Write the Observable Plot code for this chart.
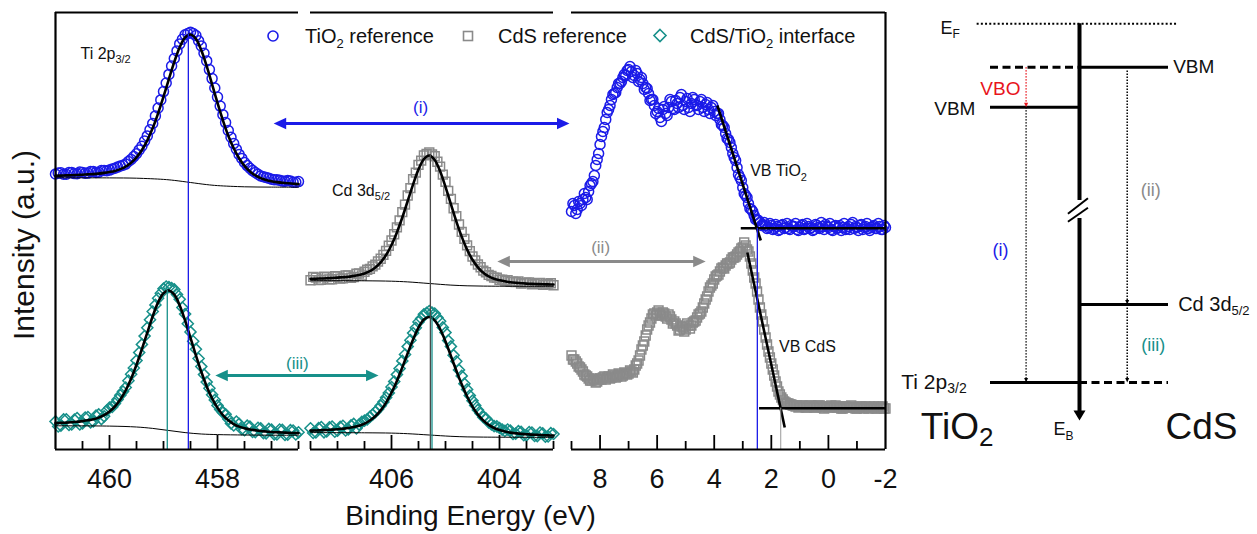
<!DOCTYPE html>
<html><head><meta charset="utf-8">
<script src="https://cdn.jsdelivr.net/npm/d3@7"></script>
<script src="https://cdn.jsdelivr.net/npm/@observablehq/plot@0.6"></script>
<style>
html,body{margin:0;padding:0;background:#fff;}
#wrap{position:relative;width:1257px;height:534px;overflow:hidden;background:#fff;}
#wrap > svg{position:absolute;top:0;left:0;}
</style></head><body><div id="wrap"></div>
<script>
// ================= DATA =================
// Ti 2p3/2 region (binding energy, eV); samples on the 0.1 eV grid and on the half-step grid
const be1 = [461.0,460.9,460.8,460.7,460.6,460.5,460.4,460.3,460.2,460.1,460.0,459.9,459.8,459.7,459.6,459.5,459.4,459.3,459.2,459.1,459.0,458.9,458.8,458.7,458.6,458.5,458.4,458.3,458.2,458.1,458.0,457.9,457.8,457.7,457.6,457.5,457.4,457.3,457.2,457.1,457.0,456.9,456.8,456.7,456.6,456.5];
const be1b = [460.95,460.85,460.75,460.65,460.55,460.45,460.35,460.25,460.15,460.05,459.95,459.85,459.75,459.65,459.55,459.45,459.35,459.25,459.15,459.05,458.95,458.85,458.75,458.65,458.55,458.45,458.35,458.25,458.15,458.05,457.95,457.85,457.75,457.65,457.55,457.45,457.35,457.25,457.15,457.05,456.95,456.85,456.75,456.65,456.55];
const tiRefData = [275.5,276.8,275.2,276.9,275.8,277.1,276.4,277.9,277.2,279.1,279.4,281.2,283.5,285.4,290.1,295.8,303.2,313.6,326.0,341.5,357.9,375.1,391.0,405.6,414.8,417.2,413.9,403.5,388.6,370.9,352.4,334.8,319.0,305.9,295.1,287.0,281.2,277.0,273.6,272.1,270.2,269.8,268.4,268.9,267.3,267.9];
const tiRefDataB = [276.4,275.3,277.0,275.9,277.4,276.3,278.0,277.1,278.9,278.8,280.6,282.4,284.3,288.0,292.9,299.6,308.4,319.7,333.6,349.6,366.5,383.4,398.6,410.2,416.0,415.9,408.8,396.2,379.9,361.5,343.4,326.9,312.3,300.3,291.1,283.9,278.9,275.3,272.7,271.2,269.8,269.3,268.2,268.5,267.2];
const tiRefFit = [273.8,273.9,274.1,274.2,274.5,274.8,275.1,275.4,275.9,276.6,277.5,278.6,280.4,282.9,286.8,292.2,299.5,309.2,321.4,336.2,352.8,370.4,387.6,402.3,412.0,415.0,410.6,399.3,383.4,365.2,346.6,329.2,313.8,301.2,291.2,283.6,278.0,274.1,271.4,269.6,268.3,267.4,266.7,266.2,265.8,265.4];
const tiIntData = [28.1,23.9,30.2,25.0,31.4,26.2,32.5,28.0,35.1,33.2,41.8,45.9,54.2,62.0,75.3,88.9,105.1,121.8,138.0,151.2,160.8,162.3,160.1,150.2,135.4,117.6,100.3,82.9,67.4,54.8,44.1,36.9,30.4,24.1,25.6,19.3,22.8,17.4,21.1,16.2,19.8,15.1,19.6,14.8,18.9,17.2];
const tiIntDataB = [23.0,30.1,24.6,29.8,25.1,31.9,27.2,33.8,30.4,38.9,42.6,50.1,57.9,68.8,81.5,96.9,113.4,129.8,144.6,156.2,163.0,161.5,154.9,141.9,125.8,108.2,91.0,74.9,61.2,49.6,40.1,35.2,26.1,27.9,20.3,23.8,17.6,21.7,16.4,20.6,15.2,19.9,14.6,19.3,15.1];
const tiIntFit = [26.4,26.6,26.9,27.2,27.7,28.4,29.2,30.2,31.9,34.3,38.0,43.0,49.9,59.1,70.7,84.7,100.4,116.9,133.2,147.1,156.2,159.0,154.8,144.1,129.0,111.7,94.2,77.7,63.1,51.1,41.6,34.4,29.2,25.5,22.9,21.2,20.0,19.2,18.5,18.0,17.5,17.2,17.0,16.7,16.5,16.4];
const bgTiRefX = [461,460,459.5,459,458.8,458.5,458.2,458,457.5,457,456.5];
const bgTiRef  = [271.7,271.6,271.3,270.1,269.1,267.0,264.9,263.9,262.7,262.4,262.3];
const bgTiIntX = [461,460,459.5,459.2,458.9,458.6,458.3,458,457.5,457,456.5];
const bgTiInt  = [23.7,23.4,22.5,21.1,19.0,16.9,15.5,14.9,14.5,14.3,14.3];

// Cd 3d5/2 region
const be2 = [407.5,407.4,407.3,407.2,407.1,407.0,406.9,406.8,406.7,406.6,406.5,406.4,406.3,406.2,406.1,406.0,405.9,405.8,405.7,405.6,405.5,405.4,405.3,405.2,405.1,405.0,404.9,404.8,404.7,404.6,404.5,404.4,404.3,404.2,404.1,404.0,403.9,403.8,403.7,403.6,403.5,403.4,403.3,403.2,403.1,403.0];
const be2b = [407.45,407.35,407.25,407.15,407.05,406.95,406.85,406.75,406.65,406.55,406.45,406.35,406.25,406.15,406.05,405.95,405.85,405.75,405.65,405.55,405.45,405.35,405.25,405.15,405.05,404.95,404.85,404.75,404.65,404.55,404.45,404.35,404.25,404.15,404.05,403.95,403.85,403.75,403.65,403.55,403.45,403.35,403.25,403.15,403.05];
const cdRefData = [169.2,171.9,169.8,172.4,170.3,173.0,171.1,174.0,172.4,176.0,177.8,180.6,184.9,190.8,198.6,209.0,222.1,237.4,254.0,270.2,284.6,294.1,297.0,293.3,282.9,267.8,250.6,233.4,217.6,204.1,193.0,185.0,178.9,174.6,171.9,169.8,168.9,167.6,167.4,166.0,166.8,165.1,166.3,164.6,165.9,164.3];
const cdRefDataB = [172.6,169.4,172.9,170.1,173.3,170.9,174.0,171.8,175.9,174.0,179.8,183.1,188.0,194.6,203.7,215.2,229.1,244.9,261.4,276.9,288.9,295.6,295.0,287.8,274.9,258.6,241.3,225.0,210.6,198.4,189.1,182.2,177.3,173.5,171.8,169.9,169.2,167.8,168.0,166.4,167.1,165.6,166.6,164.9,166.2];
const cdRefFit = [170.7,170.8,171.0,171.2,171.5,171.9,172.3,172.7,173.6,174.6,176.1,178.3,181.9,187.2,194.5,204.5,217.1,232.0,248.5,265.1,280.1,290.3,294.0,289.5,278.3,262.7,245.3,228.2,212.9,199.9,189.7,182.2,176.7,173.1,170.7,169.2,168.2,167.3,166.7,166.3,165.9,165.6,165.4,165.2,165.1,165.0];
const cdIntData = [21.2,17.1,22.4,18.0,22.9,18.8,23.7,20.1,25.6,24.9,28.8,32.6,37.4,43.8,52.0,62.5,74.9,88.6,102.9,116.4,127.6,135.2,138.4,136.0,128.3,116.9,103.1,88.2,73.6,60.1,48.8,39.6,32.3,27.2,23.4,21.5,18.6,19.0,15.8,17.6,14.2,16.9,13.4,16.1,13.0,15.5];
const cdIntDataB = [16.5,21.3,17.2,22.1,17.8,22.6,19.0,24.1,21.0,27.6,30.1,34.9,40.2,47.6,56.6,67.9,80.9,95.0,109.3,121.7,131.0,136.6,136.9,132.0,122.1,108.9,94.3,79.6,65.8,53.9,44.1,36.0,30.9,25.2,23.1,19.9,20.0,15.6,18.3,14.3,17.4,13.5,16.9,12.8,16.3];
const cdIntFit = [18.9,19.0,19.3,19.5,19.9,20.2,20.8,21.5,22.5,23.8,25.9,29.0,33.2,39.1,46.9,56.8,68.6,82.1,96.2,110.0,121.9,130.0,132.5,129.2,120.5,108.0,93.6,79.0,65.2,53.0,42.9,34.9,29.0,24.6,21.5,19.4,17.9,16.9,16.2,15.6,15.3,14.9,14.7,14.3,14.1,14.0];
const bgCdX   = [407.5,406.5,406,405.7,405.3,404.9,404.6,404.3,404,403.5,403];
const bgCdRef = [168.8,168.7,168.3,167.6,166.0,164.4,163.7,163.4,163.3,163.2,163.2];
const bgCdInt = [16.9,16.7,16.4,15.8,14.5,13.2,12.6,12.4,12.3,12.2,12.1];

// Valence band region
const be3 = [9.0,8.9,8.8,8.7,8.6,8.5,8.4,8.3,8.2,8.1,8.0,7.9,7.8,7.7,7.6,7.5,7.4,7.3,7.2,7.1,7.0,6.9,6.8,6.7,6.6,6.5,6.4,6.3,6.2,6.1,6.0,5.9,5.8,5.7,5.6,5.5,5.4,5.3,5.2,5.1,5.0,4.9,4.8,4.7,4.6,4.5,4.4,4.3,4.2,4.1,4.0,3.9,3.8,3.7,3.6,3.5,3.4,3.3,3.2,3.1,3.0,2.9,2.8,2.7,2.6,2.5,2.4,2.3,2.2,2.1,2.0,1.9,1.8,1.7,1.6,1.5,1.4,1.3,1.2,1.1,1.0,0.9,0.8,0.7,0.6,0.5,0.4,0.3,0.2,0.1,0.0,-0.1,-0.2,-0.3,-0.4,-0.5,-0.6,-0.7,-0.8,-0.9,-1.0,-1.1,-1.2,-1.3,-1.4,-1.5,-1.6,-1.7,-1.8,-1.9,-2.0];
const be3b = [8.95,8.85,8.75,8.65,8.55,8.45,8.35,8.25,8.15,8.05,7.95,7.85,7.75,7.65,7.55,7.45,7.35,7.25,7.15,7.05,6.95,6.85,6.75,6.65,6.55,6.45,6.35,6.25,6.15,6.05,5.95,5.85,5.75,5.65,5.55,5.45,5.35,5.25,5.15,5.05,4.95,4.85,4.75,4.65,4.55,4.45,4.35,4.25,4.15,4.05,3.95,3.85,3.75,3.65,3.55,3.45,3.35,3.25,3.15,3.05,2.95,2.85,2.75,2.65,2.55,2.45,2.35,2.25,2.15,2.05,1.95,1.85,1.75,1.65,1.55,1.45,1.35,1.25,1.15,1.05,0.95,0.85,0.75,0.65,0.55,0.45,0.35,0.25,0.15,0.05,-0.05,-0.15,-0.25,-0.35,-0.45,-0.55,-0.65,-0.75,-0.85,-0.95,-1.05,-1.15,-1.25,-1.35,-1.45,-1.55,-1.65,-1.75,-1.85,-1.95];
const vbTiO2 = [238,244,240,246,250,252,258,266,274,290, 305,318,330,340,350,356,362,366,372,374, 380,378,374,376,370,366,362,356,350,344, 338,332,340,336,342,348,340,346,352,344, 348,342,346,350,344,348,342,345,340,342, 338,336,330,324,316,310,302,292,282,272, 262,254,246,240,234,230,227,225,224,222, 224,221,223,220,225,222,221,224,223,220, 222,225,221,223,222,220,224,221,223,225, 222,220,223,221,224,222,220,223,225,221, 222,224,220,223,221,222,224,221,223,220, 222];
const vbTiO2B = [246,236,248,244,256,250,264,268,284,296, 313,322,337,344,355,357,366,368,375,379, 383,372,379,368,372,360,361,349,350,336, 341,328,343,334,350,341,349,342,355,340, 351,338,352,345,340,350,338,347,336,344, 334,336,325,322,311,307,296,289,275,269, 256,252,241,238,230,229,224,227,221,226, 220,225,219,224,221,226,220,223,226,219, 224,220,226,221,219,225,222,227,220,223, 226,219,224,222,219,226,221,220,227,223, 219,225,222,226,219,223,221,226,220,224];
const vbCdS = [94,90,86,82,78,74,71,69,70,68, 71,72,70,73,72,74,73,75,74,76, 76,78,80,86,94,104,114,124,131,136, 137,135,137,133,135,130,128,124,120,122, 120,124,124,128,132,136,142,150,158,164, 170,174,178,182,184,186,190,192,195,198, 202,204,198,186,172,158,142,128,112,98, 86,74,63,55,50,47,46,45,44,44, 43,44,42,43,44,42,43,44,42,43, 42,44,43,42,43,41,43,42,44,42, 41,43,42,43,41,42,43,41,42,43, 41];
const vbCdSB = [90,88,83,80,75,73,69,71,67,70, 70,73,72,71,75,72,76,73,77,75, 79,77,84,89,100,108,120,127,135,134, 139,134,136,131,133,126,126,119,123,118, 126,121,127,129,135,138,146,153,162,166, 173,175,181,181,186,187,192,193,197,201, 207,200,193,179,166,150,135,120,105,92, 80,68,58,52,48,46,45,44,43,42, 44,43,42,44,43,42,44,43,41,43, 43,42,44,42,41,43,42,43,42,41, 42,43,41,42,43,42,41,43,42,41];
// linear extrapolations of the VB edges and backgrounds
const vbEdgeX1 = [3.89, 3.07, 2.84, 2.43];
const vbEdgeY1 = [344, 221.3, 197, 41.3];
const vbEdgeX2 = [2.37, -2, 1.53, -2];
const vbEdgeY2 = [209, 221.3, 22, 41.3];

// peak / onset positions (eV) and the height they are marked from
const markBE  = [458.54, 458.93, 405.28, 405.25, 2.49, 1.67];
const markTop = [415, 159, 294, 132, 221.3, 41.3];

// axis
const panels = [[461, 456.5], [407.5, 403], [9, -2]];
const tickLabels = [460, 458, 406, 404, 8, 6, 4, 2, 0, -2];
const majorTicks = [460, 458, 406, 404, 8, 6, 4, 2, 0];
const minorTicks = [460.5, 459.5, 459, 458.5, 457.5, 457, 456.5, 407.5, 407, 406.5, 405.5, 405, 404.5, 403.5, 403, 9, 7, 5, 3, 1, -1];

// shift arrows (i), (ii), (iii)
const arrowNames = ["(i)", "(ii)", "(iii)"];
const arrowFrom = [456.96, 404.04, 458.04];
const arrowTo   = [53, 4.30, 406.24];
const arrowY    = [326, 188, 74];
const arrowLabX = [405.46, 7.98, 456.52];
const arrowLabY = [342, 202, 86];

// band diagram (schematic energy levels, binding energy downward)
const levelNames = ["E_F", "VBM CdS", "VBM TiO2", "Cd 3d5/2", "Ti 2p3/2"];
const levelE = [0, 1.085, 2.085, 7.02, 8.97];

// ================= DRAWING =================
const FONT = "'Liberation Sans', Arial, Helvetica, sans-serif";
const BLUE = "#1b1be8", TEAL = "#17908a", GREY = "#8a8a8a";
const markColors = [BLUE, TEAL, "#4a4a4a", TEAL, BLUE, "#9a9a9a"];
const arrowColors = [BLUE, GREY, TEAL];

const pts = (xs, ys) => xs.map((x, i) => ({x, y: ys[i]}));
const both = (xa, ya, xb, yb) => pts(xa, ya).concat(pts(xb, yb));
function tri(dir, l, w) {
  return {draw(c) {
    const h = w / 2;
    if (dir === "right") { c.moveTo(0, 0); c.lineTo(-l, -h); c.lineTo(-l, h); }
    else if (dir === "left") { c.moveTo(0, 0); c.lineTo(l, -h); c.lineTo(l, h); }
    else { c.moveTo(0, 0); c.lineTo(-h, -l); c.lineTo(h, -l); }
    c.closePath();
  }};
}
function subLabel(x, y, main, sub, size, subSize, fill, subDy) {
  return [
    Plot.text([main], {x: [x], y: [y], text: d => d, textAnchor: "end", lineAnchor: "bottom", fontSize: size, fill}),
    Plot.text([sub], {x: [x], y: [y], text: d => d, textAnchor: "start", lineAnchor: "bottom", fontSize: subSize, fill, dy: subDy})
  ];
}
const dotOpts = (stroke, symbol) => ({x: "x", y: "y", r: 5, symbol, stroke, fill: "none", strokeWidth: 1.5});
const fitOpts = {x: "x", y: "y", stroke: "black", strokeWidth: 2.6, curve: "catmull-rom"};
const bgOpts = {x: "x", y: "y", stroke: "black", strokeWidth: 1, curve: "catmull-rom"};

const main = Plot.plot({
  width: 1257, height: 534,
  marginLeft: 55, marginRight: 372, marginTop: 12, marginBottom: 85,
  style: {fontFamily: FONT, background: "white", overflow: "visible"},
  x: {type: "linear", domain: [461, 456.5, 407.5, 403, 9, -2], range: [55, 298, 310, 553, 571, 885], axis: null},
  y: {domain: [0, 437], range: [449, 12], axis: null},
  marks: [
    // markers
    Plot.dot(both(be1, tiRefData, be1b, tiRefDataB), dotOpts(BLUE, "circle")),
    Plot.dot(both(be1, tiIntData, be1b, tiIntDataB), dotOpts(TEAL, "diamond2")),
    Plot.dot(both(be2, cdRefData, be2b, cdRefDataB), dotOpts(GREY, "square")),
    Plot.dot(both(be2, cdIntData, be2b, cdIntDataB), dotOpts(TEAL, "diamond2")),
    Plot.dot(both(be3, vbTiO2, be3b, vbTiO2B), dotOpts(BLUE, "circle")),
    Plot.dot(both(be3, vbCdS, be3b, vbCdSB), dotOpts(GREY, "square")),
    // backgrounds
    Plot.line(pts(bgTiRefX, bgTiRef), bgOpts),
    Plot.line(pts(bgTiIntX, bgTiInt), bgOpts),
    Plot.line(pts(bgCdX, bgCdRef), bgOpts),
    Plot.line(pts(bgCdX, bgCdInt), bgOpts),
    // fits
    Plot.line(pts(be1, tiRefFit), fitOpts),
    Plot.line(pts(be1, tiIntFit), fitOpts),
    Plot.line(pts(be2, cdRefFit), fitOpts),
    Plot.line(pts(be2, cdIntFit), fitOpts),
    // VB edge extrapolations
    Plot.link(vbEdgeX1, {x1: d => d, y1: (d, i) => vbEdgeY1[i], x2: (d, i) => vbEdgeX2[i], y2: (d, i) => vbEdgeY2[i], stroke: "black", strokeWidth: 2.6}),
    // peak / onset markers
    markBE.map((x, i) => Plot.ruleX([x], {y1: 0, y2: markTop[i], stroke: markColors[i], strokeWidth: i === 5 ? 1 : 1.3})),
    // frame
    Plot.ruleY(panels, {y: 0, x1: d => d[0], x2: d => d[1], strokeWidth: 2.2}),
    Plot.ruleY(panels, {y: 437, x1: d => d[0], x2: d => d[1], strokeWidth: 2.2}),
    Plot.ruleX([461, -2], {y1: 0, y2: 437, strokeWidth: 2.2}),
    Plot.ruleX(minorTicks, {x: d => d, y1: 0, y2: 8, strokeWidth: 1.8}),
    Plot.ruleX(majorTicks, {x: d => d, y1: 0, y2: 14, strokeWidth: 1.8}),
    Plot.text(tickLabels, {x: d => d, y: 0, text: d => String(d), dy: 30, fontSize: 27, fill: "#111"}),
    Plot.text(["Binding Energy (eV)"], {frameAnchor: "bottom", textAnchor: "middle", lineAnchor: "middle", dy: 67, fontSize: 28, fill: "#111"}),
    Plot.text(["Intensity (a.u.)"], {frameAnchor: "left", textAnchor: "middle", lineAnchor: "middle", rotate: -90, dx: -31, dy: 14, fontSize: 30, fill: "#111"}),
    // shift arrows
    arrowNames.map((n, i) => [
      Plot.arrow([n], {x1: [arrowFrom[i]], x2: [arrowTo[i]], y1: [arrowY[i]], y2: [arrowY[i]], headLength: 0, insetStart: 8, insetEnd: 8, stroke: arrowColors[i], strokeWidth: 3}),
      Plot.dot([n], {x: [arrowFrom[i]], y: [arrowY[i]], symbol: tri("left", 12.5, 11.5), fill: arrowColors[i], stroke: "none"}),
      Plot.dot([n], {x: [arrowTo[i]], y: [arrowY[i]], symbol: tri("right", 12.5, 11.5), fill: arrowColors[i], stroke: "none"}),
      Plot.text([n], {x: [arrowLabX[i]], y: [arrowLabY[i]], text: d => d, fontSize: 17, fill: arrowColors[i]})
    ]),
    // labels
    subLabel(459.89, 391, "Ti 2p", "3/2", 16, 11, "#111", 4),
    subLabel(406.31, 254, "Cd 3d", "5/2", 16, 11, "#111", 4),
    subLabel(0.965, 274, "VB TiO", "2", 16, 11, "#111", 5),
    Plot.text(["VB CdS"], {x: [1.73], y: [97.3], text: d => d, textAnchor: "start", lineAnchor: "bottom", fontSize: 16, fill: "#111"})
  ]
});
document.getElementById("wrap").appendChild(main);

// legend
const legend = d3.select("#wrap").append("svg")
  .attr("width", 1257).attr("height", 60)
  .style("position", "absolute").style("left", "0px").style("top", "0px")
  .attr("font-family", FONT).attr("font-size", 20).attr("fill", "#111");
legend.append("circle").attr("cx", 273).attr("cy", 36).attr("r", 5).attr("fill", "none").attr("stroke", BLUE).attr("stroke-width", 1.6);
legend.append("rect").attr("x", 463.5).attr("y", 31.5).attr("width", 9).attr("height", 9).attr("fill", "none").attr("stroke", GREY).attr("stroke-width", 1.6);
legend.append("path").attr("d", "M660,29.5L666,35.5L660,41.5L654,35.5Z").attr("fill", "none").attr("stroke", TEAL).attr("stroke-width", 1.6);
const legendText = [[305, "TiO", "2", " reference"], [498, "CdS reference", "", ""], [690, "CdS/TiO", "2", " interface"]];
legendText.forEach(([x, a, s, b]) => {
  const t = legend.append("text").attr("x", x).attr("y", 43).text(a);
  if (s) {
    t.append("tspan").attr("font-size", 13).attr("dy", 5).text(s);
    t.append("tspan").attr("dy", -5).text(b);
  }
});

// band diagram
const diag = Plot.plot({
  width: 372, height: 534, margin: 0,
  style: {fontFamily: FONT, background: "transparent", overflow: "visible"},
  x: {domain: [-1, 1], range: [105, 283], axis: null},
  y: {domain: [0, 10], range: [23.3, 423.3], axis: null},
  marks: [
    Plot.ruleY([levelE[0]], {y: d => d, x1: -1.15, x2: 1.1, strokeWidth: 2, strokeDasharray: "2,2.2"}),
    Plot.ruleY([levelE[1]], {y: d => d, x1: 0, x2: 1, strokeWidth: 3}),
    Plot.ruleY([levelE[1]], {y: d => d, x1: -1, x2: 0, strokeWidth: 3, strokeDasharray: "8,4.5"}),
    Plot.ruleY([levelE[2]], {y: d => d, x1: -1, x2: 0, strokeWidth: 3}),
    Plot.ruleY([levelE[3]], {y: d => d, x1: 0, x2: 1, strokeWidth: 3}),
    Plot.ruleY([levelE[4]], {y: d => d, x1: -1, x2: 0, strokeWidth: 3}),
    Plot.ruleY([levelE[4]], {y: d => d, x1: 0, x2: 1, strokeWidth: 3, strokeDasharray: "8,4.5"}),
    Plot.ruleX([0], {y1: levelE[0], y2: 4.42, strokeWidth: 4}),
    Plot.ruleX([0], {y1: 4.87, y2: 9.75, strokeWidth: 4}),
    Plot.link([0, 1], {x1: -0.13, x2: 0.095, y1: d => [4.75, 4.95][d], y2: d => [4.36, 4.6][d], strokeWidth: 2}),
    Plot.dot([0], {x: 0, y: 9.92, symbol: tri("down", 10, 12), fill: "black", stroke: "none"}),
    Plot.link([0], {x1: -0.6, x2: -0.6, y1: levelE[1], y2: levelE[2] - 0.08, stroke: "#e8141c", strokeWidth: 1.5, strokeDasharray: "1.3,1.7"}),
    Plot.dot([0], {x: -0.6, y: levelE[2], symbol: tri("down", 4.5, 4), fill: "#e8141c", stroke: "none"}),
    Plot.link([0], {x1: -0.6, x2: -0.6, y1: levelE[2], y2: levelE[4] - 0.08, stroke: "black", strokeWidth: 1.5, strokeDasharray: "1.3,1.7"}),
    Plot.dot([0], {x: -0.6, y: levelE[4], symbol: tri("down", 4.5, 4), fill: "black", stroke: "none"}),
    Plot.link([0], {x1: 0.536, x2: 0.536, y1: 1.17, y2: levelE[3] - 0.08, stroke: "black", strokeWidth: 1.5, strokeDasharray: "1.3,1.7"}),
    Plot.dot([0], {x: 0.536, y: levelE[3], symbol: tri("down", 4.5, 4), fill: "black", stroke: "none"}),
    Plot.link([0], {x1: 0.536, x2: 0.536, y1: levelE[3], y2: levelE[4] - 0.08, stroke: "black", strokeWidth: 1.5, strokeDasharray: "1.3,1.7"}),
    Plot.dot([0], {x: 0.536, y: levelE[4], symbol: tri("down", 4.5, 4), fill: "black", stroke: "none"}),
    subLabel(-1.427, 0.25, "E", "F", 18, 12, "#111", 4),
    Plot.text(["VBM"], {x: [1.052], y: [levelE[1]], text: d => d, textAnchor: "start", fontSize: 19, fill: "#111"}),
    Plot.text(["VBM"], {x: [-1.169], y: [levelE[2] + 0.04], text: d => d, textAnchor: "end", fontSize: 19, fill: "#111"}),
    Plot.text(["VBO"], {x: [-0.663], y: [1.62], text: d => d, textAnchor: "end", fontSize: 19, fill: "#e8141c"}),
    Plot.text(["(i)"], {x: [-0.888], y: [5.67], text: d => d, fontSize: 18, fill: BLUE}),
    Plot.text(["(ii)"], {x: [0.80], y: [4.17], text: d => d, fontSize: 18, fill: GREY}),
    Plot.text(["(iii)"], {x: [0.83], y: [8.04], text: d => d, fontSize: 18, fill: TEAL}),
    subLabel(1.708, levelE[3] + 0.17, "Cd 3d", "5/2", 20, 13, "#111", 4),
    subLabel(-1.486, levelE[4] + 0.15, "Ti 2p", "3/2", 21, 14, "#111", 4),
    subLabel(-1.13, 10.375, "TiO", "2", 37, 26, "#111", 7),
    Plot.text(["CdS"], {x: [0.966], y: [10.375], text: d => d, textAnchor: "start", lineAnchor: "bottom", fontSize: 37, fill: "#111"}),
    subLabel(-0.157, 10.29, "E", "B", 18, 12, "#111", 5)
  ]
});
diag.style.left = "885px";
document.getElementById("wrap").appendChild(diag);
</script></body></html>
